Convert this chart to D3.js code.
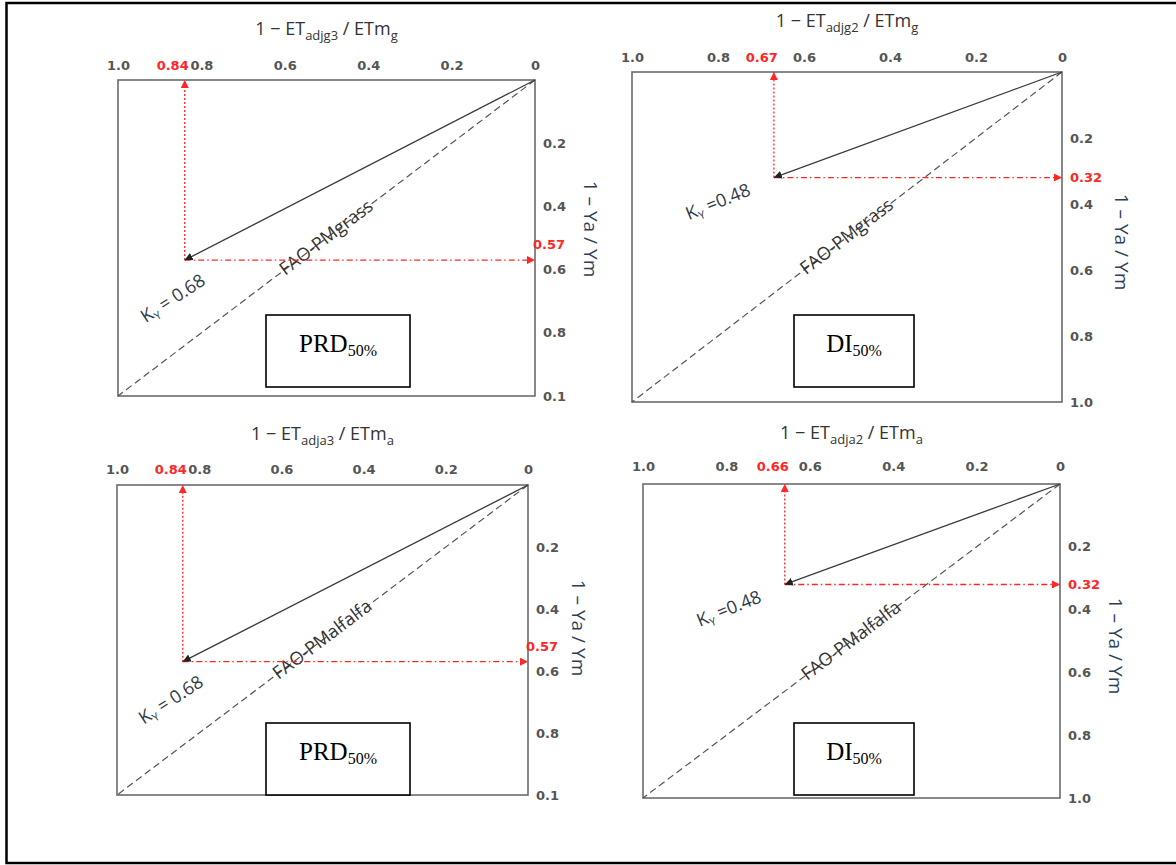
<!DOCTYPE html>
<html lang="en">
<head>
<meta charset="utf-8">
<script src="https://cdn.jsdelivr.net/npm/d3@7"></script>
<style>
  body { margin: 0; background: #fff; }
  .tick text { font-family: "DejaVu Sans", sans-serif; font-weight: bold; font-size: 13px; fill: #555; }
</style>
</head>
<body>
<script>
// one entry per panel: top-left, top-right, bottom-left, bottom-right
const treatments = ["PRD", "DI", "PRD", "DI"];
const cropNames = ["FAO-PMgrass", "FAO-PMgrass", "FAO-PMalfalfa", "FAO-PMalfalfa"];
const etSubs = ["adjg3", "adjg2", "adja3", "adja2"];
const etmSubs = ["g", "g", "a", "a"];
const etDeficit = [0.84, 0.67, 0.84, 0.66];   // 1 - ETadj / ETm
const yieldLoss = [0.57, 0.32, 0.57, 0.32];   // 1 - Ya / Ym
const kyText = ["= 0.68", "=0.48", "= 0.68", "=0.48"];
const xTicks = [1.0, 0.8, 0.6, 0.4, 0.2, 0];
const yTicks = [0.2, 0.4, 0.6, 0.8, 1.0];
const yBottomLabels = ["0.1", "1.0", "0.1", "1.0"];

// layout of each panel (pixels)
const panels = [
  {x0: 118, x1: 535, y0: 80, y1: 396, pad: 10, box: [148, -81, 144], ky: [-12, 38, -33], yt: [56, -9]},
  {x0: 632, x1: 1062, y0: 72, y1: 402, pad: 10, box: [162, -87, 120], ky: [-56, 24, -22], yt: [60, 5]},
  {x0: 117, x1: 528, y0: 485, y1: 795, pad: 11, box: [149, -72, 144], ky: [-12, 38, -33], yt: [51, -12]},
  {x0: 643, x1: 1060, y0: 484, y1: 798, pad: 13, box: [151, -75, 120], ky: [-56, 24, -22], yt: [56, 5]}
];

const w = 1176, h = 865;
const red = "#ff2626";

const svg = d3.select("body").append("svg")
  .attr("width", w)
  .attr("height", h);

// arrow heads
const defs = svg.append("defs");
[["arrowBlack", "#222"], ["arrowRed", red]].forEach(([id, c]) => {
  defs.append("marker")
    .attr("id", id)
    .attr("viewBox", "0 0 10 10")
    .attr("refX", 10).attr("refY", 5)
    .attr("markerWidth", 8).attr("markerHeight", 8)
    .attr("markerUnits", "userSpaceOnUse")
    .attr("orient", "auto")
    .append("path")
    .attr("d", "M0,0 L10,5 L0,10 z")
    .attr("fill", c);
});

// outer frame
svg.append("rect")
  .attr("x", 6.5).attr("y", 3)
  .attr("width", 1200).attr("height", 860)
  .attr("fill", "none")
  .attr("stroke", "#000")
  .attr("stroke-width", 2.5);

panels.forEach((p, i) => {
  const g = svg.append("g");
  const x = d3.scaleLinear().domain([1, 0]).range([p.x0, p.x1]);
  const y = d3.scaleLinear().domain([0, 1]).range([p.y0, p.y1]);

  // plot frame
  g.append("rect")
    .attr("x", x(1)).attr("y", y(0))
    .attr("width", x(0) - x(1))
    .attr("height", y(1) - y(0))
    .attr("fill", "none")
    .attr("stroke", "#6b6b6b")
    .attr("stroke-width", 1.6);

  // axes
  const xAxis = d3.axisTop(x).tickValues(xTicks).tickSize(0).tickPadding(p.pad)
    .tickFormat(d => d === 0 ? "0" : d3.format(".1f")(d));
  g.append("g")
    .attr("transform", "translate(0," + y(0) + ")")
    .call(xAxis)
    .call(a => a.select(".domain").remove());

  const yAxis = d3.axisRight(y).tickValues(yTicks).tickSize(0).tickPadding(8)
    .tickFormat(d => d === 1 ? yBottomLabels[i] : d3.format(".1f")(d));
  g.append("g")
    .attr("transform", "translate(" + x(0) + ",0)")
    .call(yAxis)
    .call(a => a.select(".domain").remove());

  // x title
  const xt = g.append("text")
    .attr("x", (x(0) + x(1)) / 2)
    .attr("y", y(0) - 45)
    .attr("text-anchor", "middle")
    .attr("font-family", "Open Sans, sans-serif")
    .attr("font-size", 18)
    .attr("fill", "#333");
  xt.append("tspan").text("1 \u2212 ET");
  xt.append("tspan").attr("dy", 5).attr("font-size", 13).text(etSubs[i]);
  xt.append("tspan").attr("dy", -5).text(" / ETm");
  xt.append("tspan").attr("dy", 5).attr("font-size", 13).text(etmSubs[i]);

  // y title
  const ytx = x(0) + p.yt[0], yty = (y(0) + y(1)) / 2 + p.yt[1];
  g.append("text")
    .attr("transform", "translate(" + ytx + "," + yty + ") rotate(90)")
    .attr("text-anchor", "middle")
    .attr("dy", "0.35em")
    .attr("font-family", "Open Sans, sans-serif")
    .attr("font-size", 19)
    .attr("fill", "#2e3e55")
    .text("1 \u2013 Ya / Ym");

  // FAO-PM 1:1 line
  g.append("line")
    .attr("x1", x(0)).attr("y1", y(0))
    .attr("x2", x(1)).attr("y2", y(1))
    .attr("stroke", "#555")
    .attr("stroke-width", 1.2)
    .attr("stroke-dasharray", "7,4");

  const ang = Math.atan2(y(0) - y(1), x(0) - x(1)) * 180 / Math.PI;
  g.append("text")
    .attr("transform", "translate(" + x(0.5) + "," + y(0.5) + ") rotate(" + ang + ")")
    .attr("text-anchor", "middle")
    .attr("dy", "0.3em")
    .attr("font-family", "Open Sans, sans-serif")
    .attr("font-size", 18)
    .attr("fill", "#333")
    .text(cropNames[i]);

  const px = x(etDeficit[i]), py = y(yieldLoss[i]);

  // red guides to the axes
  g.append("line")
    .attr("x1", px).attr("y1", py)
    .attr("x2", px).attr("y2", y(0))
    .attr("stroke", red)
    .attr("stroke-width", 1.3)
    .attr("stroke-dasharray", "2,2")
    .attr("marker-end", "url(#arrowRed)");

  g.append("line")
    .attr("x1", px).attr("y1", py)
    .attr("x2", x(0)).attr("y2", py)
    .attr("stroke", red)
    .attr("stroke-width", 1.3)
    .attr("stroke-dasharray", "6,3,1.5,3")
    .attr("marker-end", "url(#arrowRed)");

  // Ky slope arrow
  g.append("line")
    .attr("x1", x(0)).attr("y1", y(0))
    .attr("x2", px).attr("y2", py)
    .attr("stroke", "#3a3a3a")
    .attr("stroke-width", 1.3)
    .attr("marker-end", "url(#arrowBlack)");

  // red value labels
  g.append("text")
    .attr("x", px + 4)
    .attr("y", y(0) - p.pad)
    .attr("text-anchor", "end")
    .attr("font-family", "DejaVu Sans, sans-serif")
    .attr("font-weight", "bold")
    .attr("font-size", 13)
    .attr("fill", red)
    .text(d3.format(".2f")(etDeficit[i]));

  const nearTick = d3.min(yTicks, t => Math.abs(t - yieldLoss[i])) < 0.06;
  g.append("text")
    .attr("x", nearTick ? x(0) + 30 : x(0) + 8)
    .attr("y", nearTick ? py - 15 : py)
    .attr("dy", "0.32em")
    .attr("text-anchor", nearTick ? "end" : "start")
    .attr("font-family", "DejaVu Sans, sans-serif")
    .attr("font-weight", "bold")
    .attr("font-size", 13)
    .attr("fill", red)
    .text(d3.format(".2f")(yieldLoss[i]));

  // Ky label
  const ky = g.append("text")
    .attr("transform", "translate(" + (px + p.ky[0]) + "," + (py + p.ky[1]) + ") rotate(" + p.ky[2] + ")")
    .attr("text-anchor", "middle")
    .attr("dy", "0.35em")
    .attr("font-family", "Open Sans, sans-serif")
    .attr("font-size", 18)
    .attr("fill", "#2f3a48");
  ky.append("tspan").text("K");
  ky.append("tspan").attr("dy", 4).attr("font-size", 11).text("Y");
  ky.append("tspan").attr("dy", -4).text(" " + kyText[i]);

  // treatment box
  const bx = p.x0 + p.box[0], by = p.y1 + p.box[1], bw = p.box[2];
  g.append("rect")
    .attr("x", bx).attr("y", by)
    .attr("width", bw).attr("height", 72)
    .attr("fill", "#fff")
    .attr("stroke", "#000")
    .attr("stroke-width", 1.6);
  const tl = g.append("text")
    .attr("x", bx + bw / 2)
    .attr("y", by + 37)
    .attr("text-anchor", "middle")
    .attr("font-family", "Liberation Serif, serif")
    .attr("font-size", 25)
    .attr("fill", "#000");
  tl.append("tspan").text(treatments[i]);
  tl.append("tspan").attr("dy", 4).attr("font-size", 16).text("50%");
});
</script>
</body>
</html>
